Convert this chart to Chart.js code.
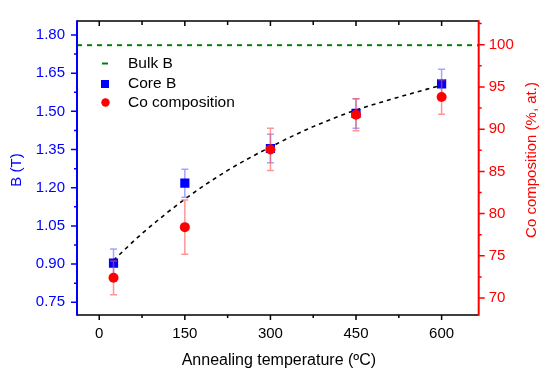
<!DOCTYPE html>
<html><head><meta charset="utf-8">
<title>Core B and Co composition vs annealing temperature</title>
<script src="https://cdn.jsdelivr.net/npm/chart.js"></script>
<style>
  html, body { margin: 0; padding: 0; background: #fff; }
  #wrap { width: 550px; height: 378px; }
</style>
</head>
<body>
<div id="wrap"><canvas id="chart" width="550" height="378"></canvas></div>
<script>
  // values
  const temps = [25, 150, 300, 450, 600];
  const coreB = [0.904, 1.218, 1.354, 1.492, 1.608];
  const coreBErr = [0.055, 0.055, 0.056, 0.058, 0.057];
  const coComp = [72.4, 78.4, 87.6, 91.7, 93.8];
  const coErr = [2.0, 3.2, 2.5, 1.9, 2.05];
  const bulkB = 1.76;

  // dashed fit curve through the core B points
  const fitT = [25, 75, 150, 225, 300, 375, 450, 525, 600];
  const fitB = [0.915, 1.02, 1.155, 1.268, 1.36, 1.44, 1.505, 1.556, 1.603];

  const xTicks = [0, 150, 300, 450, 600];
  const xMinor = [75, 225, 375, 525];
  const bTicks = [0.75, 0.90, 1.05, 1.20, 1.35, 1.50, 1.65, 1.80];
  const coTicks = [70, 75, 80, 85, 90, 95, 100];

  const FONT = '"Liberation Sans", Arial, sans-serif';
  const BLUE = '#0000ff';
  const RED = '#ff0000';
  const GREEN = '#008000';

  function drawErrorBars(ctx, xScale, yScale, ys, errs, color) {
    ctx.save();
    ctx.strokeStyle = color;
    ctx.lineWidth = 1.5;
    temps.forEach((t, i) => {
      const x = xScale.getPixelForValue(t);
      const y1 = yScale.getPixelForValue(ys[i] + errs[i]);
      const y2 = yScale.getPixelForValue(ys[i] - errs[i]);
      ctx.beginPath();
      ctx.moveTo(x, y1); ctx.lineTo(x, y2);
      ctx.moveTo(x - 3.5, y1); ctx.lineTo(x + 3.5, y1);
      ctx.moveTo(x - 3.5, y2); ctx.lineTo(x + 3.5, y2);
      ctx.stroke();
    });
    ctx.restore();
  }

  const errorBars = {
    id: 'errorBars',
    beforeDatasetDraw(chart, args) {
      const ctx = chart.ctx;
      const lbl = chart.data.datasets[args.index].label;
      if (lbl === 'Core B') drawErrorBars(ctx, chart.scales.x, chart.scales.yB, coreB, coreBErr, 'rgba(90,90,255,0.55)');
      if (lbl === 'Co composition') drawErrorBars(ctx, chart.scales.x, chart.scales.yCo, coComp, coErr, 'rgba(255,80,80,0.6)');
    }
  };

  // frame, major/minor ticks, axis titles and the in-plot legend
  const decor = {
    id: 'decor',
    afterDraw(chart) {
      const ctx = chart.ctx;
      const a = chart.chartArea;
      const x = chart.scales.x, yB = chart.scales.yB, yCo = chart.scales.yCo;
      ctx.save();

      // ticks
      ctx.lineWidth = 1.5;
      ctx.strokeStyle = '#000';
      ctx.beginPath();
      xTicks.forEach(v => {
        const p = x.getPixelForValue(v);
        ctx.moveTo(p, a.bottom); ctx.lineTo(p, a.bottom + 5);
        ctx.moveTo(p, a.top); ctx.lineTo(p, a.top + 5);
      });
      xMinor.forEach(v => {
        const p = x.getPixelForValue(v);
        ctx.moveTo(p, a.bottom); ctx.lineTo(p, a.bottom + 3);
        ctx.moveTo(p, a.top); ctx.lineTo(p, a.top + 4);
      });
      ctx.stroke();

      ctx.strokeStyle = BLUE;
      ctx.beginPath();
      bTicks.forEach(v => {
        const p = yB.getPixelForValue(v);
        ctx.moveTo(a.left, p); ctx.lineTo(a.left - 6, p);
        const m = yB.getPixelForValue(v + 0.075);
        if (m > a.top) { ctx.moveTo(a.left, m); ctx.lineTo(a.left - 3, m); }
      });
      ctx.stroke();

      ctx.strokeStyle = RED;
      ctx.beginPath();
      coTicks.forEach(v => {
        const p = yCo.getPixelForValue(v);
        ctx.moveTo(a.right, p); ctx.lineTo(a.right + 6, p);
        const m = yCo.getPixelForValue(v + 2.5);
        if (m > a.top) { ctx.moveTo(a.right, m); ctx.lineTo(a.right + 3, m); }
      });
      ctx.stroke();

      // frame
      ctx.lineWidth = 1.5;
      ctx.strokeStyle = '#000';
      ctx.beginPath();
      ctx.moveTo(a.left, a.top); ctx.lineTo(a.right, a.top);
      ctx.moveTo(a.left, a.bottom); ctx.lineTo(a.right, a.bottom);
      ctx.stroke();
      ctx.lineWidth = 2;
      ctx.strokeStyle = BLUE;
      ctx.beginPath(); ctx.moveTo(a.left, a.top - 0.75); ctx.lineTo(a.left, a.bottom + 0.75); ctx.stroke();
      ctx.strokeStyle = RED;
      ctx.beginPath(); ctx.moveTo(a.right, a.top - 0.75); ctx.lineTo(a.right, a.bottom + 0.75); ctx.stroke();

      // axis titles
      ctx.textAlign = 'center';
      ctx.textBaseline = 'alphabetic';
      ctx.fillStyle = '#000';
      ctx.font = '16px ' + FONT;
      ctx.fillText('Annealing temperature (ºC)', (a.left + a.right) / 2 + 1, 365);

      ctx.textBaseline = 'middle';
      ctx.save();
      ctx.translate(17, 170);
      ctx.rotate(-Math.PI / 2);
      ctx.fillStyle = BLUE;
      ctx.font = '15px ' + FONT;
      ctx.fillText('B (T)', 0, 0);
      ctx.restore();

      ctx.save();
      ctx.translate(532, 160);
      ctx.rotate(-Math.PI / 2);
      ctx.fillStyle = RED;
      ctx.font = '15px ' + FONT;
      ctx.fillText('Co composition (%, at.)', 0, 0);
      ctx.restore();

      // legend
      ctx.fillStyle = GREEN;
      ctx.fillRect(102, 62.5, 6, 2);
      ctx.fillStyle = BLUE;
      ctx.fillRect(101, 80, 8, 8);
      ctx.fillStyle = RED;
      ctx.beginPath(); ctx.arc(105.5, 102.5, 4.2, 0, Math.PI * 2); ctx.fill();
      ctx.fillStyle = '#000';
      ctx.textAlign = 'left';
      ctx.font = '15.5px ' + FONT;
      ctx.fillText('Bulk B', 128, 64);
      ctx.fillText('Core B', 128, 83.5);
      ctx.fillText('Co composition', 128, 102.5);

      ctx.restore();
    }
  };

  const tickFont = { family: FONT, size: 15 };

  new Chart(document.getElementById('chart').getContext('2d'), {
    type: 'line',
    data: {
      datasets: [
        {
          label: 'Co composition',
          data: temps.map((t, i) => ({ x: t, y: coComp[i] })),
          yAxisID: 'yCo',
          showLine: false,
          pointStyle: 'circle',
          pointRadius: 5,
          pointBackgroundColor: RED,
          pointBorderWidth: 0,
          order: 0
        },
        {
          label: 'Core B',
          data: temps.map((t, i) => ({ x: t, y: coreB[i] })),
          yAxisID: 'yB',
          showLine: false,
          pointStyle: 'rect',
          pointRadius: 6.5,
          pointBackgroundColor: BLUE,
          pointBorderWidth: 0,
          order: 1
        },
        {
          label: 'Fit',
          data: fitT.map((t, i) => ({ x: t, y: fitB[i] })),
          yAxisID: 'yB',
          borderColor: '#000',
          borderWidth: 1.6,
          borderDash: [4, 4],
          pointRadius: 0,
          cubicInterpolationMode: 'monotone',
          fill: false,
          order: 2
        },
        {
          label: 'Bulk B',
          data: [{ x: -39, y: bulkB }, { x: 665, y: bulkB }],
          yAxisID: 'yB',
          borderColor: GREEN,
          borderWidth: 2,
          borderDash: [5, 5],
          pointRadius: 0,
          fill: false,
          order: 3
        }
      ]
    },
    options: {
      responsive: false,
      animation: false,
      layout: { padding: { top: 18, left: 0, right: 0, bottom: 0 } },
      plugins: { legend: { display: false }, tooltip: { enabled: false } },
      scales: {
        x: {
          type: 'linear',
          min: -39,
          max: 665,
          afterFit(s) { s.height = 63; },
          afterBuildTicks(s) { s.ticks = xTicks.map(v => ({ value: v })); },
          grid: { display: false, drawTicks: false },
          border: { display: false },
          ticks: { padding: 10, color: '#000', font: tickFont, maxRotation: 0 }
        },
        yB: {
          type: 'linear',
          position: 'left',
          min: 0.70,
          max: 1.855,
          afterFit(s) { s.width = 77; },
          afterBuildTicks(s) { s.ticks = bTicks.map(v => ({ value: v })); },
          grid: { display: false, drawTicks: false },
          border: { display: false },
          ticks: { padding: 12, color: BLUE, font: tickFont, callback: v => v.toFixed(2) }
        },
        yCo: {
          type: 'linear',
          position: 'right',
          min: 68,
          max: 102.8,
          afterFit(s) { s.width = 71.3; },
          afterBuildTicks(s) { s.ticks = coTicks.map(v => ({ value: v })); },
          grid: { display: false, drawTicks: false },
          border: { display: false },
          ticks: { padding: 10, color: RED, font: tickFont }
        }
      }
    },
    plugins: [errorBars, decor]
  });
</script>
</body>
</html>
